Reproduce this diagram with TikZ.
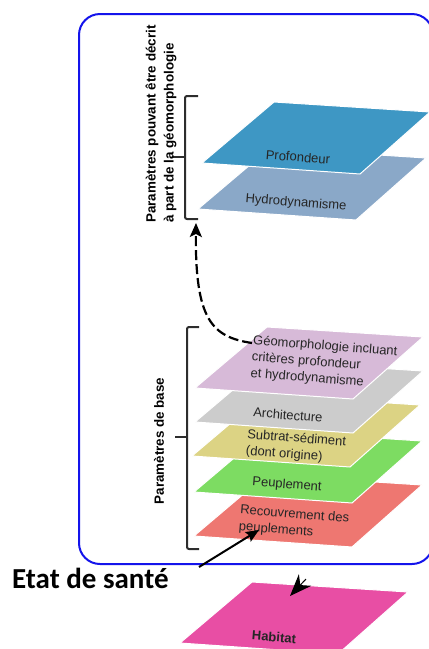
\documentclass[tikz,border=0pt]{standalone}
\usepackage{fontspec}
\setmainfont{Liberation Sans}
\newfontfamily\calibfont{Carlito}
\usetikzlibrary{arrows.meta}
\definecolor{cProf}{RGB}{62,151,196}
\definecolor{cHydro}{RGB}{138,168,200}
\definecolor{cGeo}{RGB}{215,186,216}
\definecolor{cArch}{RGB}{204,204,204}
\definecolor{cSub}{RGB}{220,211,132}
\definecolor{cPeup}{RGB}{125,220,98}
\definecolor{cRec}{RGB}{238,119,113}
\definecolor{cHab}{RGB}{232,78,164}
\definecolor{cFrame}{RGB}{20,20,235}
\definecolor{cBrace}{RGB}{45,45,45}
\newcommand\planeat[3]{%
  \fill[#1, draw=white, line width=1pt] (#2,#3) -- ++(158,11) -- ++(70,-62) -- ++(-156,-10) -- cycle;}
\tikzset{
  lbl/.style={inner sep=0pt, rotate=-4.5, text=black!85, font=\fontsize{13}{16.5}\selectfont, align=left},
  bracelbl/.style={inner sep=0pt, rotate=90, align=left, font=\bfseries\fontsize{13.4}{18}\selectfont},
  bracket/.style={draw=cBrace, line width=2pt, rounded corners=2pt},
}
\begin{document}
\begin{tikzpicture}[x=1pt,y=-1pt]
\useasboundingbox (0,0) rectangle (429,649);
\clip (0,0) rectangle (429,649);
% frame
\draw[cFrame, line width=2pt, rounded corners=21pt] (79,14) rectangle (433,564);
% planes (top group)
\planeat{cHydro}{198}{209}
\planeat{cProf}{202}{163}
% planes (base group)
\planeat{cRec}{194}{536}
\planeat{cPeup}{194}{492}
\planeat{cSub}{192}{456}
\planeat{cArch}{195}{422}
\planeat{cGeo}{195}{388}
% habitat
\planeat{cHab}{180}{643}
% labels
\node[lbl] (prof) at (298,157) {Profondeur};
\node[lbl] (hydro) at (296,203) {Hydrodynamisme};
\node[lbl] (geo) at (324,363) {Géomorphologie incluant\\critères profondeur\\et hydrodynamisme};
\node[lbl] (arch) at (288,415) {Architecture};
\node[lbl] (sub) at (296,447) {Subtrat-sédiment\\(dont origine)};
\node[lbl] (peup) at (287,485) {Peuplement};
\node[lbl] (rec) at (294,523) {Recouvrement des\\peuplements};
\node[lbl, font=\bfseries\fontsize{13}{16}\selectfont] (hab) at (274,637) {Habitat};
% brackets
\draw[bracket] (198,96) -- (185,96) -- (185,219) -- (198,219);
\draw[bracket] (185,157) -- (172,157);
\draw[bracket] (199,327) -- (187,327) -- (187,549) -- (199,549);
\draw[bracket] (187,437) -- (175,437);
% bracket labels
\node[bracelbl, anchor=west] (toplbl) at (161,223) {Paramètres pouvant être décrit\\à part de la géomorphologie};
\node[bracelbl] (baselbl) at (159,441) {Paramètres de base};
% Etat de sante
\node[inner sep=0pt, anchor=base west, font=\calibfont\bfseries\fontsize{29}{34}\selectfont] (etat) at (12,588) {Etat de santé};
% connectors
\coordinate (geostart) at (252,343);
\coordinate (topbrace) at (196,223);
\draw[line width=2.2pt, dash pattern=on 10pt off 4pt, -{Stealth[length=14pt,width=12pt,inset=3pt]}]
  (geostart) .. controls (212,337) and (195,320) .. (topbrace);
\coordinate (etatfrom) at (199,567);
\coordinate (etatto) at (259,530);
\draw[line width=2pt, -{Stealth[length=13pt,width=11pt,inset=2pt]}] (etatfrom) -- (etatto);
\coordinate (habfrom) at (306,579);
\coordinate (habto) at (290,596);
\draw[line width=1pt, -{Stealth[length=22pt,width=17pt,inset=7pt]}] (habfrom) -- (habto);
\end{tikzpicture}
\end{document}
